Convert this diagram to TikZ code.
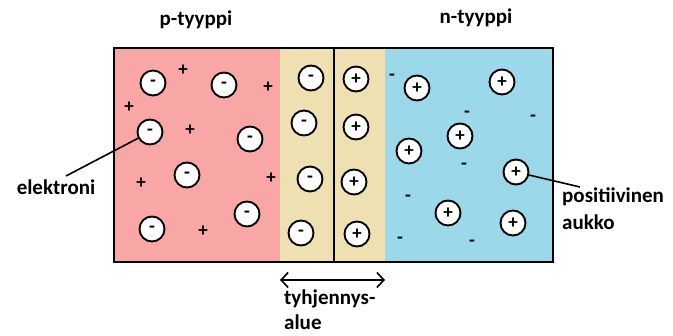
\documentclass[tikz,border=0pt]{standalone}
\usepackage{fontspec}
\setmainfont{Carlito}
\usetikzlibrary{arrows.meta}
\definecolor{pinkreg}{RGB}{248,166,166}
\definecolor{yelreg}{RGB}{238,224,176}
\definecolor{bluereg}{RGB}{154,216,234}
\tikzset{
  chg/.style={circle,draw,line width=1.9pt,fill=white,minimum size=25pt,inner sep=0pt,font=\fontsize{19}{19}\selectfont\bfseries},
  sgn/.style={inner sep=0pt,font=\fontsize{19}{19}\selectfont\bfseries},
  lbl/.style={inner sep=0pt,font=\fontsize{21}{27}\selectfont\bfseries},
  lead/.style={line width=1.6pt}
}
\begin{document}
\begin{tikzpicture}[x=1pt,y=-1pt]
\useasboundingbox (0,0) rectangle (673,336);
% regions
\fill[pinkreg] (114,48) rectangle (280,262);
\fill[yelreg] (280,48) rectangle (385,262);
\fill[bluereg] (385,48) rectangle (553,262);
\draw[line width=1.6pt] (334,48) -- (334,262);
\draw[line width=2.6pt] (114,48) rectangle (553,262);
% titles
\node[lbl] (pt) at (196,20) {p-tyyppi};
\node[lbl] (nt) at (476,18) {n-tyyppi};
% p region electrons
\node[chg] (e1) at (153,83) {-};
\node[chg] (e2) at (224,85) {-};
\node[chg] (e3) at (150,132) {-};
\node[chg] (e4) at (250,139) {-};
\node[chg] (e5) at (187,175) {-};
\node[chg] (e6) at (247,214) {-};
\node[chg] (e7) at (152,229) {-};
% p region plus
\node[sgn] (pp1) at (183,70) {+};
\node[sgn] (pp2) at (268,87) {+};
\node[sgn] (pp3) at (129,107) {+};
\node[sgn] (pp4) at (190,130) {+};
\node[sgn] (pp5) at (141,183) {+};
\node[sgn] (pp6) at (271,178) {+};
\node[sgn] (pp7) at (203,231) {+};
% depletion
\node[chg] (d1) at (311,78) {-};
\node[chg] (d2) at (304,123) {-};
\node[chg] (d3) at (310,179) {-};
\node[chg] (d4) at (301,233) {-};
\node[chg] (d5) at (356,79) {+};
\node[chg] (d6) at (356,127) {+};
\node[chg] (d7) at (354,182) {+};
\node[chg] (d8) at (357,234) {+};
% n region holes
\node[chg] (h1) at (417,88) {+};
\node[chg] (h2) at (502,82) {+};
\node[chg] (h3) at (460,136) {+};
\node[chg] (h4) at (409,151) {+};
\node[chg] (h5) at (516,172) {+};
\node[chg] (h6) at (448,213) {+};
\node[chg] (h7) at (513,223) {+};
% n region minus
\node[sgn] (nm1) at (392,77) {-};
\node[sgn] (nm2) at (467,114) {-};
\node[sgn] (nm3) at (533,118) {-};
\node[sgn] (nm4) at (464,166) {-};
\node[sgn] (nm5) at (408,198) {-};
\node[sgn] (nm6) at (400,240) {-};
\node[sgn] (nm7) at (472,243) {-};
% labels
\node[lbl] (el) at (56,187) {elektroni};
\coordinate (elend) at (66,176);
\draw[lead] (e3) -- (elend);
\node[lbl,align=left,anchor=west] (pa) at (562,209) {positiivinen\\aukko};
\coordinate (paend) at (580,187);
\draw[lead] (h5) -- (paend);
% depletion arrow
\coordinate (a1) at (280,280);
\coordinate (a2) at (385,280);
\draw[line width=1.6pt,{Straight Barb[length=7pt,width=15pt]}-{Straight Barb[length=7pt,width=15pt]}] (a1) -- (a2);
\node[lbl,align=left,anchor=west,font=\fontsize{21}{25}\selectfont\bfseries] (ty) at (284,310) {tyhjennys-\\alue};
\end{tikzpicture}
\end{document}
